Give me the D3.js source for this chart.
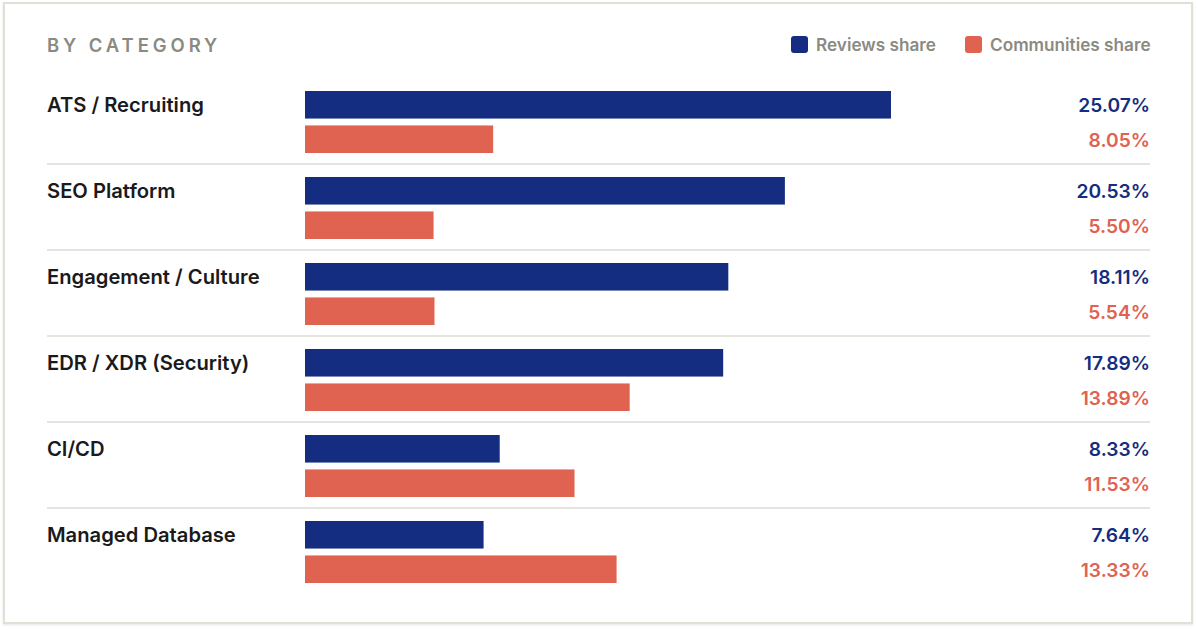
<!DOCTYPE html>
<html>
<head>
<meta charset="utf-8">
<script src="https://cdn.jsdelivr.net/npm/d3@7"></script>
<style>
  html, body { margin: 0; padding: 0; background: #ffffff; }
  svg { display: block; }
  text { font-family: "Inter", "Noto Sans", sans-serif; }
</style>
</head>
<body>
<svg id="chart" width="1198" height="631"></svg>
<script>
const categories = ["ATS / Recruiting", "SEO Platform", "Engagement / Culture", "EDR / XDR (Security)", "CI/CD", "Managed Database"];
const reviewsShare = [25.07, 20.53, 18.11, 17.89, 8.33, 7.64];
const communitiesShare = [8.05, 5.50, 5.54, 13.89, 11.53, 13.33];
const seriesNames = ["Reviews share", "Communities share"];
const seriesColors = ["#142d80", "#e06250"];
const titleText = "BY CATEGORY";

const svg = d3.select("#chart");

// card
const defs = svg.append("defs");
const f = defs.append("filter").attr("id", "sh").attr("x", "-5%").attr("y", "-5%").attr("width", "110%").attr("height", "110%");
f.append("feDropShadow").attr("dx", 0).attr("dy", 1).attr("stdDeviation", 1.2).attr("flood-color", "#000").attr("flood-opacity", 0.10);
svg.append("rect").attr("x", 4).attr("y", 3).attr("width", 1188).attr("height", 620)
  .attr("fill", "#fff").attr("stroke", "#e2dfd7").attr("stroke-width", 2).attr("filter", "url(#sh)");

const left = 47, right = 1150, barX = 305;
const rowTop = 77, rowH = 86;

const maxVal = d3.max(reviewsShare.concat(communitiesShare));
const x = d3.scaleLinear().domain([0, maxVal]).range([0, 586]);
const y = d3.scaleBand().domain(categories).range([rowTop, rowTop + rowH * categories.length]).padding(0);
const sub = d3.scaleBand().domain([0, 1]).range([14, 76]).paddingInner(0.2).paddingOuter(0);

// title
svg.append("text").attr("x", left).attr("y", 52).text(titleText)
  .attr("fill", "#8b8a82").attr("font-size", 18.5).attr("font-weight", 600).attr("letter-spacing", 3.9);

// legend
const legendItems = [{ name: seriesNames[0], color: seriesColors[0], x: 791 }, { name: seriesNames[1], color: seriesColors[1], x: 965 }];
const lg = svg.append("g");
legendItems.forEach(d => {
  lg.append("rect").attr("x", d.x).attr("y", 36).attr("width", 17).attr("height", 17).attr("rx", 3).attr("fill", d.color);
  lg.append("text").attr("x", d.x + 25).attr("y", 51).text(d.name)
    .attr("fill", "#8b8a82").attr("font-size", 17.2).attr("font-weight", 600);
});

// separators
svg.selectAll("line.sep").data(categories.slice(1)).enter().append("line")
  .attr("x1", left).attr("x2", right)
  .attr("y1", d => y(d) + 1).attr("y2", d => y(d) + 1)
  .attr("stroke", "#e6e4de").attr("stroke-width", 2);

const rows = svg.selectAll("g.row").data(categories).enter().append("g")
  .attr("transform", d => `translate(0,${y(d)})`);

rows.append("text").attr("x", left).attr("y", 0).attr("dy", sub(0) + sub.bandwidth() / 2 + 7.5)
  .text(d => d).attr("fill", "#1a1a1a").attr("font-size", 20.2).attr("font-weight", 600);

const series = [reviewsShare, communitiesShare];
series.forEach((vals, si) => {
  rows.append("rect")
    .attr("x", barX).attr("y", sub(si))
    .attr("width", (d, i) => x(vals[i])).attr("height", sub.bandwidth())
    .attr("fill", seriesColors[si]);
  rows.append("text")
    .attr("x", right).attr("y", sub(si) + sub.bandwidth() / 2 + 7.5)
    .attr("text-anchor", "end")
    .text((d, i) => vals[i].toFixed(2) + "%")
    .attr("fill", seriesColors[si]).attr("font-size", 19.2).attr("font-weight", 600);
});
</script>
</body>
</html>
